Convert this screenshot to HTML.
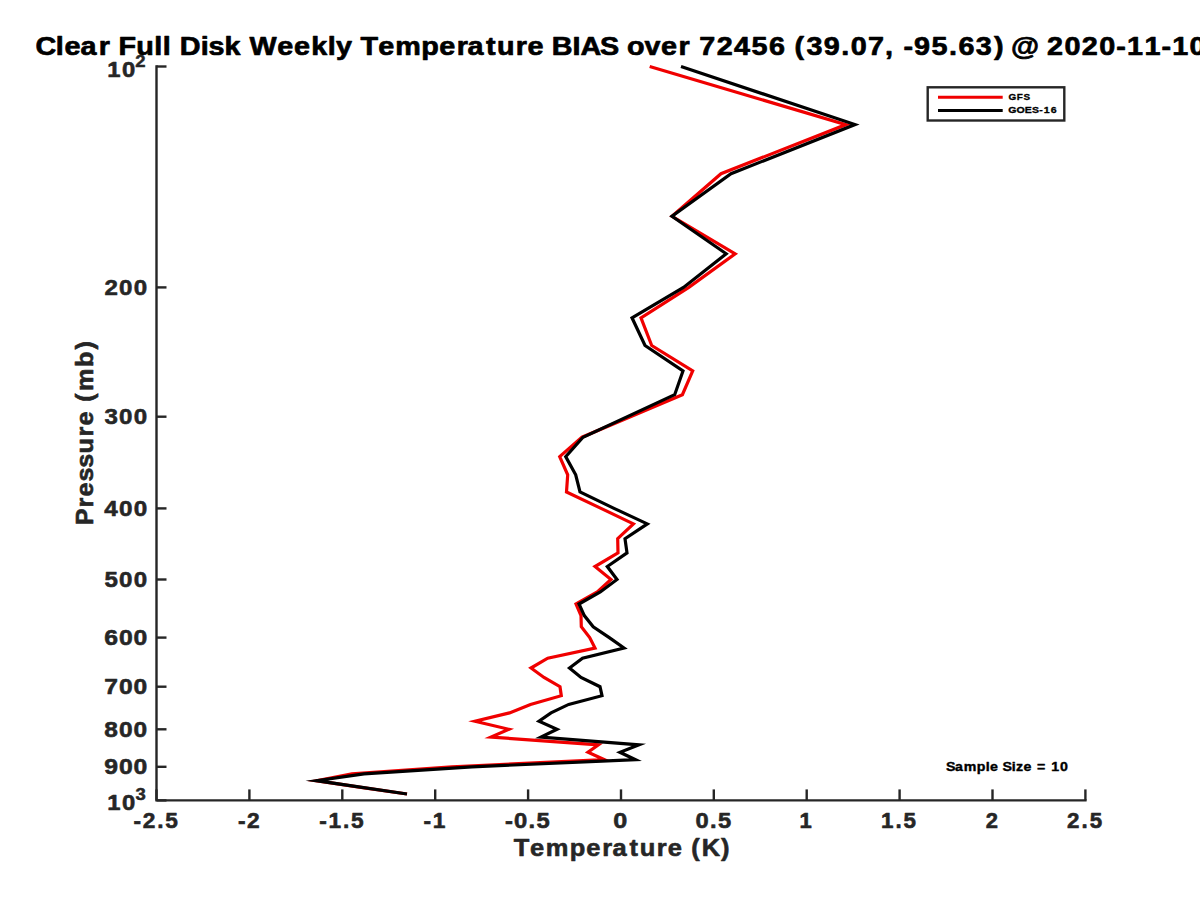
<!DOCTYPE html>
<html><head><meta charset="utf-8"><style>html,body{margin:0;padding:0;background:#fff;overflow:hidden}svg{display:block}text{font-family:"Liberation Sans", sans-serif;font-weight:bold}</style></head>
<body><svg width="1200" height="900" viewBox="0 0 1200 900">
<rect width="1200" height="900" fill="#fff"/>
<path d="M156.5,66.5 L156.5,800.4 L1085.4,800.4" fill="none" stroke="#262626" stroke-width="2.4" stroke-linejoin="miter" stroke-linecap="square"/>
<line x1="156.5" y1="66.5" x2="166.5" y2="66.5" stroke="#262626" stroke-width="2.4"/>
<line x1="156.5" y1="287.4" x2="166.5" y2="287.4" stroke="#262626" stroke-width="2.4"/>
<line x1="156.5" y1="416.7" x2="166.5" y2="416.7" stroke="#262626" stroke-width="2.4"/>
<line x1="156.5" y1="508.4" x2="166.5" y2="508.4" stroke="#262626" stroke-width="2.4"/>
<line x1="156.5" y1="579.5" x2="166.5" y2="579.5" stroke="#262626" stroke-width="2.4"/>
<line x1="156.5" y1="637.6" x2="166.5" y2="637.6" stroke="#262626" stroke-width="2.4"/>
<line x1="156.5" y1="686.7" x2="166.5" y2="686.7" stroke="#262626" stroke-width="2.4"/>
<line x1="156.5" y1="729.3" x2="166.5" y2="729.3" stroke="#262626" stroke-width="2.4"/>
<line x1="156.5" y1="766.8" x2="166.5" y2="766.8" stroke="#262626" stroke-width="2.4"/>
<line x1="156.5" y1="800.4" x2="166.5" y2="800.4" stroke="#262626" stroke-width="2.4"/>
<line x1="156.5" y1="800.4" x2="156.5" y2="789.4" stroke="#262626" stroke-width="2.4"/>
<line x1="249.4" y1="800.4" x2="249.4" y2="789.4" stroke="#262626" stroke-width="2.4"/>
<line x1="342.3" y1="800.4" x2="342.3" y2="789.4" stroke="#262626" stroke-width="2.4"/>
<line x1="435.2" y1="800.4" x2="435.2" y2="789.4" stroke="#262626" stroke-width="2.4"/>
<line x1="528.1" y1="800.4" x2="528.1" y2="789.4" stroke="#262626" stroke-width="2.4"/>
<line x1="621.0" y1="800.4" x2="621.0" y2="789.4" stroke="#262626" stroke-width="2.4"/>
<line x1="713.8" y1="800.4" x2="713.8" y2="789.4" stroke="#262626" stroke-width="2.4"/>
<line x1="806.7" y1="800.4" x2="806.7" y2="789.4" stroke="#262626" stroke-width="2.4"/>
<line x1="899.6" y1="800.4" x2="899.6" y2="789.4" stroke="#262626" stroke-width="2.4"/>
<line x1="992.5" y1="800.4" x2="992.5" y2="789.4" stroke="#262626" stroke-width="2.4"/>
<line x1="1085.4" y1="800.4" x2="1085.4" y2="789.4" stroke="#262626" stroke-width="2.4"/>
<path d="M649.7,66.5 L846.0,124.6 L721.0,173.7 L672.0,216.3 L735.2,253.8 L688.8,287.4 L641.0,317.8 L651.7,345.5 L692.7,371.0 L682.4,394.7 L582.0,437.2 L559.7,456.6 L567.7,474.8 L566.5,492.0 L601.0,508.4 L633.4,523.9 L617.7,538.7 L618.0,552.9 L595.0,566.5 L611.0,579.5 L597.3,592.0 L576.0,604.0 L581.0,615.6 L581.3,626.8 L589.7,637.6 L595.0,648.0 L547.7,658.2 L531.0,668.0 L544.0,677.5 L560.0,686.7 L561.3,695.7 L530.5,704.4 L509.5,712.9 L475.0,721.2 L509.0,729.3 L491.0,737.1 L598.5,744.8 L588.0,752.3 L604.5,759.7 L452.0,766.8 L352.0,773.8 L316.5,780.7 L361.0,787.4 L407.0,794.0" fill="none" stroke="#f00000" stroke-width="3.2" stroke-linejoin="miter" stroke-miterlimit="20"/>
<path d="M681.0,66.5 L855.0,124.6 L731.0,173.7 L672.0,216.3 L726.2,253.8 L683.5,287.4 L632.0,317.8 L645.0,345.5 L683.0,371.0 L674.7,394.7 L583.0,437.2 L565.7,456.6 L575.7,474.8 L580.0,492.0 L614.0,508.4 L647.3,523.9 L625.0,538.7 L627.0,552.9 L607.3,566.5 L617.0,579.5 L600.3,592.0 L579.0,604.0 L584.3,615.6 L593.2,626.8 L609.3,637.6 L624.0,648.0 L582.5,658.2 L569.5,668.0 L581.0,677.5 L600.0,686.7 L602.0,695.7 L568.7,704.4 L551.0,712.9 L539.0,721.2 L557.0,729.3 L541.0,737.1 L639.0,744.8 L620.0,752.3 L635.5,759.7 L472.0,766.8 L364.0,773.8 L316.5,780.7 L362.0,787.4 L407.0,794.0" fill="none" stroke="#000" stroke-width="3.2" stroke-linejoin="miter" stroke-miterlimit="20"/>
<rect x="927.7" y="87.3" width="136.6" height="33.2" fill="#fff" stroke="#262626" stroke-width="2.4"/>
<line x1="938" y1="97.3" x2="1002.7" y2="97.3" stroke="#f00000" stroke-width="3"/>
<line x1="938" y1="110.6" x2="1002.7" y2="110.6" stroke="#000" stroke-width="3"/>
<g font-family="Liberation Sans, sans-serif" font-weight="bold">
<text transform="translate(0,295.03) scale(1.0525,1)" x="99.25 113.17 127.05" y="0" font-size="22.89" fill="#262626" stroke="#262626" stroke-width="0.6" stroke-linejoin="round">200</text>
<text transform="translate(0,424.26) scale(1.0529,1)" x="99.25 113.12 127.00" y="0" font-size="22.89" fill="#262626" stroke="#262626" stroke-width="0.6" stroke-linejoin="round">300</text>
<text transform="translate(0,515.95) scale(1.0582,1)" x="98.58 112.52 126.33" y="0" font-size="22.89" fill="#262626" stroke="#262626" stroke-width="0.6" stroke-linejoin="round">400</text>
<text transform="translate(0,587.07) scale(1.0522,1)" x="99.33 113.20 127.08" y="0" font-size="22.89" fill="#262626" stroke="#262626" stroke-width="0.6" stroke-linejoin="round">500</text>
<text transform="translate(0,645.19) scale(1.0816,1)" x="96.50 109.95 123.46" y="0" font-size="22.89" fill="#262626" stroke="#262626" stroke-width="0.6" stroke-linejoin="round">600</text>
<text transform="translate(0,694.32) scale(1.0735,1)" x="97.09 110.83 124.44" y="0" font-size="22.89" fill="#262626" stroke="#262626" stroke-width="0.6" stroke-linejoin="round">700</text>
<text transform="translate(0,736.88) scale(1.0695,1)" x="97.57 111.27 124.93" y="0" font-size="22.89" fill="#262626" stroke="#262626" stroke-width="0.6" stroke-linejoin="round">800</text>
<text transform="translate(0,774.42) scale(1.0809,1)" x="96.40 110.03 123.55" y="0" font-size="22.89" fill="#262626" stroke="#262626" stroke-width="0.6" stroke-linejoin="round">900</text>
<text transform="translate(0,77.00) scale(1.0400,1)" x="103.23 117.26" y="0" font-size="22.89" fill="#262626" stroke="#262626" stroke-width="0.6" stroke-linejoin="round">10</text>
<text transform="translate(0,66.60) scale(1.0900,1)" x="124.17" y="0" font-size="16.96" fill="#262626" stroke="#262626" stroke-width="0.5" stroke-linejoin="round">2</text>
<text transform="translate(0,810.00) scale(1.0400,1)" x="103.23 117.26" y="0" font-size="22.89" fill="#262626" stroke="#262626" stroke-width="0.6" stroke-linejoin="round">10</text>
<text transform="translate(0,799.60) scale(1.0900,1)" x="124.38" y="0" font-size="16.96" fill="#262626" stroke="#262626" stroke-width="0.5" stroke-linejoin="round">3</text>
<text transform="translate(0,827.75) scale(0.9902,1)" x="134.93 144.12 158.74 167.00" y="0" font-size="22.89" fill="#262626" stroke="#262626" stroke-width="0.6" stroke-linejoin="round">-2.5</text>
<text transform="translate(0,827.75) scale(0.9914,1)" x="240.04 249.21" y="0" font-size="22.89" fill="#262626" stroke="#262626" stroke-width="0.6" stroke-linejoin="round">-2</text>
<text transform="translate(0,827.75) scale(0.9919,1)" x="321.98 331.24 345.76 353.99" y="0" font-size="22.89" fill="#262626" stroke="#262626" stroke-width="0.6" stroke-linejoin="round">-1.5</text>
<text transform="translate(0,827.75) scale(0.9946,1)" x="425.82 435.05" y="0" font-size="22.89" fill="#262626" stroke="#262626" stroke-width="0.6" stroke-linejoin="round">-1</text>
<text transform="translate(0,827.75) scale(1.0392,1)" x="485.92 494.59 508.64 516.36" y="0" font-size="22.89" fill="#262626" stroke="#262626" stroke-width="0.6" stroke-linejoin="round">-0.5</text>
<text transform="translate(0,827.75) scale(1.0997,1)" x="557.65" y="0" font-size="22.89" fill="#262626" stroke="#262626" stroke-width="0.6" stroke-linejoin="round">0</text>
<text transform="translate(0,827.75) scale(1.0362,1)" x="671.22 685.30 693.04" y="0" font-size="22.89" fill="#262626" stroke="#262626" stroke-width="0.6" stroke-linejoin="round">0.5</text>
<text transform="translate(0,827.75) scale(0.9630,1)" x="830.22" y="0" font-size="22.89" fill="#262626" stroke="#262626" stroke-width="0.6" stroke-linejoin="round">1</text>
<text transform="translate(0,827.75) scale(0.9780,1)" x="900.88 915.56 923.96" y="0" font-size="22.89" fill="#262626" stroke="#262626" stroke-width="0.6" stroke-linejoin="round">1.5</text>
<text transform="translate(0,827.75) scale(0.9591,1)" x="1027.83" y="0" font-size="22.89" fill="#262626" stroke="#262626" stroke-width="0.6" stroke-linejoin="round">2</text>
<text transform="translate(0,827.75) scale(0.9760,1)" x="1093.27 1108.06 1116.48" y="0" font-size="22.89" fill="#262626" stroke="#262626" stroke-width="0.6" stroke-linejoin="round">2.5</text>
<text transform="translate(0,855.75) scale(1.0400,1)" x="493.93 509.60 524.74 547.80 563.71 579.16 588.97 605.23 615.14 631.53 642.10 657.02 664.76 674.86 693.18" y="0" font-size="24.49" fill="#262626" stroke="#262626" stroke-width="0.6" stroke-linejoin="round">Temperature (K)</text>
<text transform="translate(92.7,0) rotate(-90) scale(1.0300,1)" x="-509.92 -492.65 -481.97 -467.45 -454.10 -440.25 -423.72 -413.03 -398.00 -390.17 -379.65 -356.39 -339.44" y="0" font-size="24.49" fill="#262626" stroke="#262626" stroke-width="0.6" stroke-linejoin="round">Pressure (mb)</text>
<text transform="translate(0,54.75) scale(1.0861,1)" x="32.79 51.42 59.35 74.16 90.96 101.86 109.00 125.35 141.93 149.82 157.76 165.56 184.84 192.06 206.68 221.78 229.65 255.17 270.79 286.62 301.67 309.32 324.62 332.05 348.32 363.82 387.87 404.39 420.47 430.56 447.55 457.67 474.75 485.63 501.26 508.11 527.09 534.41 552.44 569.77 577.28 593.42 608.59 624.67 635.57 643.77 659.90 675.79 691.99 708.05 723.67 731.62 742.54 758.42 774.61 783.31 799.18 814.80 823.76 831.82 841.53 857.70 873.74 882.50 898.46 915.24 924.65 930.89 955.69 964.00 980.05 996.03 1012.08 1027.82 1037.67 1053.69 1069.41 1079.26 1095.26" y="0" font-size="26.50" fill="#000" stroke="#000" stroke-width="0.7" stroke-linejoin="round">Clear Full Disk Weekly Temperature BIAS over 72456 (39.07, -95.63) @ 2020-11-10</text>
<text transform="translate(0,100.3) scale(1.0518,1)" x="958.77 966.62 973.18" y="0" font-size="9.50" fill="#000" stroke="#000" stroke-width="0.3" stroke-linejoin="round">GFS</text>
<text transform="translate(0,113.4) scale(1.1355,1)" x="887.90 895.27 902.49 908.75 915.27 919.15 925.28" y="0" font-size="9.30" fill="#000" stroke="#000" stroke-width="0.3" stroke-linejoin="round">GOES-16</text>
<text transform="translate(0,770.75) scale(1.0702,1)" x="883.89 892.27 900.53 912.71 921.04 925.09 932.99 936.71 945.44 949.32 956.29 964.19 969.08 978.04 982.32 990.43" y="0" font-size="13.25" fill="#000" stroke="#000" stroke-width="0.4" stroke-linejoin="round">Sample Size = 10</text>
</g>
</svg></body></html>
